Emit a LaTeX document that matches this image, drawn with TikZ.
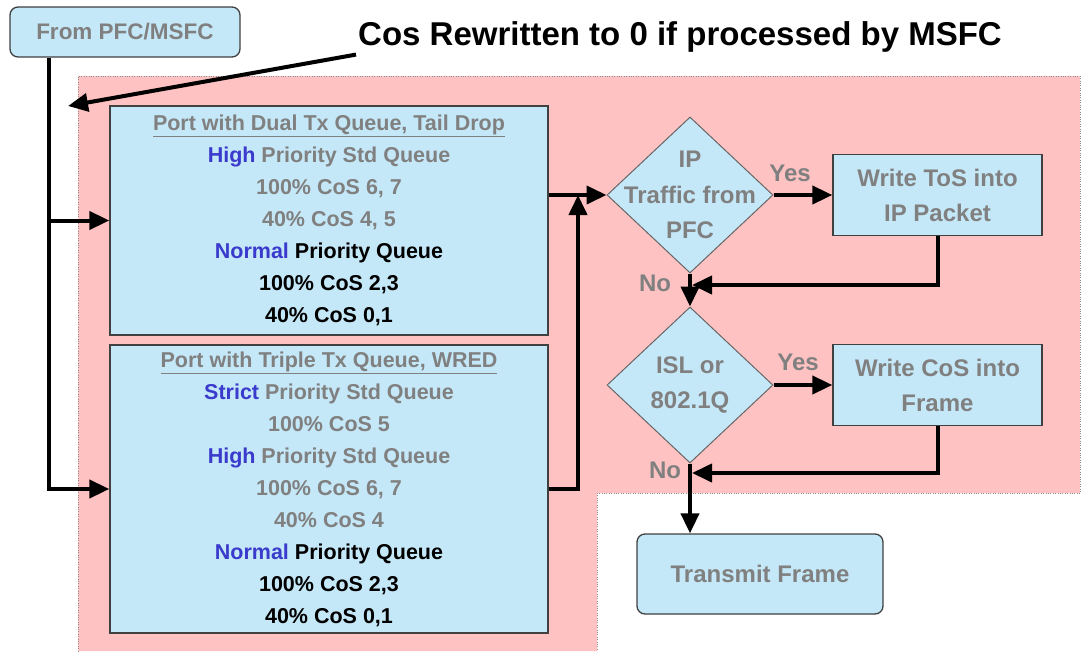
\documentclass[tikz,border=0pt]{standalone}
\usepackage{fontspec}
\setmainfont{Liberation Sans}
\usetikzlibrary{shapes.geometric,arrows.meta}
\definecolor{boxblue}{RGB}{197,232,248}
\definecolor{bgpink}{RGB}{255,194,194}
\definecolor{txtgray}{RGB}{128,128,128}
\definecolor{prioblue}{RGB}{58,58,204}
\newcommand{\prio}[1]{\textcolor{prioblue}{#1}}
\newcommand{\dimtxt}[1]{\textcolor{txtgray}{#1}}

\begin{document}
\begin{tikzpicture}[x=1pt,y=-1pt,
    wire/.style={line width=4pt},
    flow/.style={line width=4pt,-{Triangle[length=20pt,width=18pt]}},
    queue/.style={draw=black!75,line width=1.3pt,fill=boxblue,align=center,inner sep=0pt,minimum width=438pt,font=\bfseries\fontsize{21.5}{32}\selectfont},
    action/.style={draw=black!75,line width=1.3pt,fill=boxblue,text=txtgray,align=center,inner sep=0pt,minimum width=209pt,minimum height=81pt,font=\bfseries\fontsize{24}{35}\selectfont},
    terminal/.style={action,rounded corners=8pt},
    decide/.style={diamond,draw=black!60,line width=1pt,fill=boxblue,inner sep=0pt,minimum width=166pt,minimum height=156pt},
    dlabel/.style={text=txtgray,align=center,font=\bfseries\fontsize{24}{35.5}\selectfont},
    answer/.style={text=txtgray,inner sep=0pt,font=\bfseries\fontsize{24}{28}\selectfont}]
\useasboundingbox (0,0) rectangle (1087,651);
%background
\path[draw=black!45,dotted,fill=bgpink] (78,651) -- (78,76) -- (1080,76) -- (1080,493) -- (597,493) -- (597,651);

%boxes
\node[terminal,minimum width=230pt,minimum height=50pt,font=\bfseries\fontsize{22.5}{26}\selectfont] (src) at (125,32) {From PFC/MSFC};
\node[inner sep=2pt,font=\bfseries\fontsize{33}{38}\selectfont] (note) at (680,37) {Cos Rewritten to 0 if processed by MSFC};

\node[queue,minimum height=229pt] (dual) at (329,220.5) {
    \dimtxt{\underline{Port with Dual Tx Queue, Tail Drop}}\\
    \prio{High} \dimtxt{Priority Std Queue}\\
    \dimtxt{100\% CoS 6, 7}\\
    \dimtxt{40\% CoS 4, 5}\\
    \prio{Normal} Priority Queue\\
    100\% CoS 2,3\\
    40\% CoS 0,1};
\node[queue,minimum height=288pt] (triple) at (329,489) {
    \dimtxt{\underline{Port with Triple Tx Queue, WRED}}\\
    \prio{Strict} \dimtxt{Priority Std Queue}\\
    \dimtxt{100\% CoS 5}\\
    \prio{High} \dimtxt{Priority Std Queue}\\
    \dimtxt{100\% CoS 6, 7}\\
    \dimtxt{40\% CoS 4}\\
    \prio{Normal} Priority Queue\\
    100\% CoS 2,3\\
    40\% CoS 0,1};

\node[decide,label={[dlabel]center:{IP\\Traffic from\\PFC}}] (ip) at (690,195) {};
\node[decide,label={[dlabel]center:{ISL or\\802.1Q}}] (isl) at (690,385) {};
\node[action] (tos) at (937.5,195) {Write ToS into\\IP Packet};
\node[action] (cos) at (937.5,385) {Write CoS into\\Frame};
\node[terminal,minimum width=246pt,minimum height=80pt] (tx) at (760,574) {Transmit Frame};

%labels
\node[answer] (yes1) at (790,173) {Yes};
\node[answer] (no1) at (655,283) {No};
\node[answer] (yes2) at (798,362) {Yes};
\node[answer] (no2) at (665,470) {No};

\coordinate (trunk) at (49,0);
\coordinate (join) at (578,0);
\coordinate (cosin) at (68,106);
\coordinate (m1) at (692,285);
\coordinate (m2) at (692,473);

%arrows
\draw[flow] (note.south west) -- (cosin);
\draw[flow] (trunk |- src.south) |- (triple.west);
\draw[flow] (trunk |- dual.west) -- (dual.west);
\draw[flow] (dual.east |- ip.west) -- (ip.west);
\draw[flow] (triple.east) -| (join |- ip.west);
\draw[flow] (ip.east) -- (tos.west);
\draw[flow] (tos.south) |- (m1);
\draw[flow] (ip.south) -- (isl.north);
\draw[flow] (isl.east) -- (cos.west);
\draw[flow] (cos.south) |- (m2);
\draw[flow] (isl.south) -- (isl.south |- tx.north);

\end{tikzpicture}
\end{document}
